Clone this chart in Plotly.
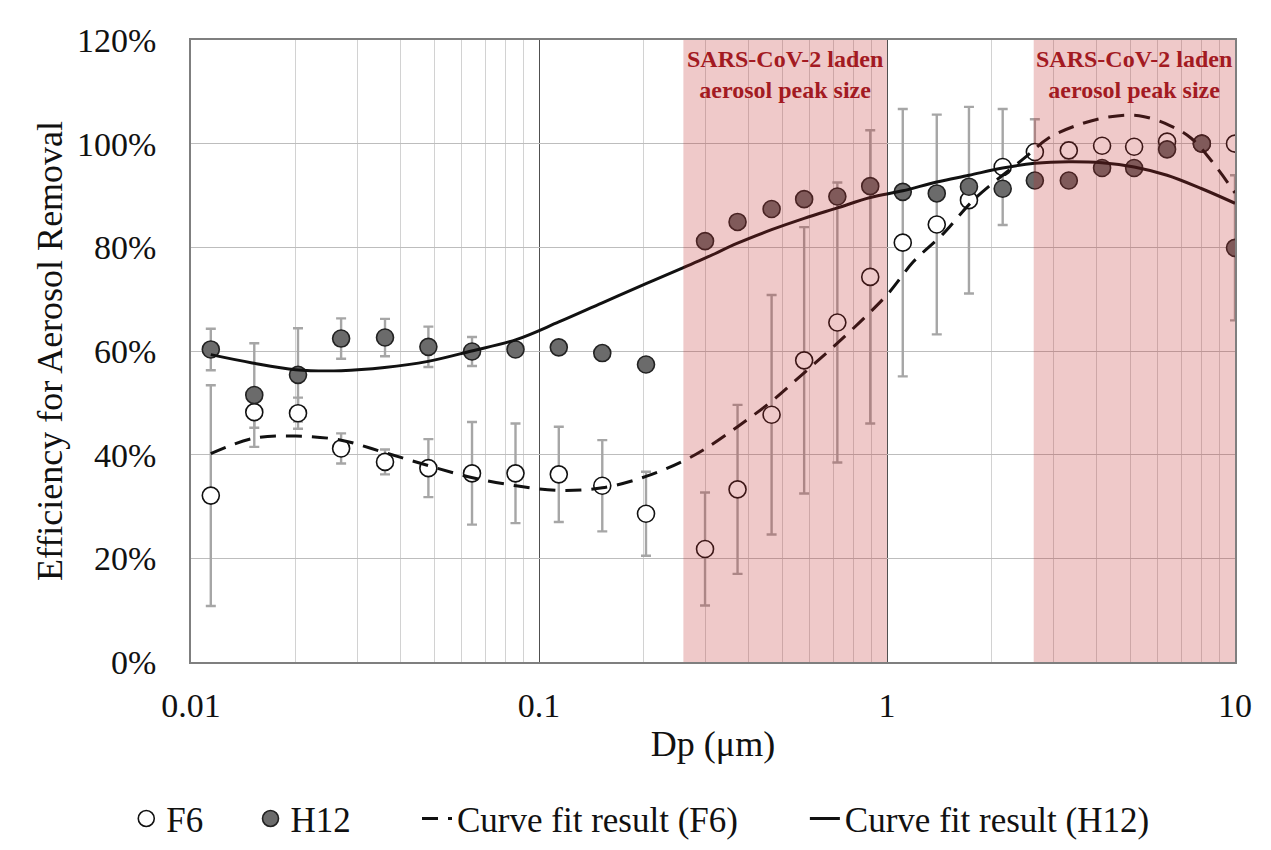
import math
import plotly.graph_objects as go

# ---------------- data ----------------
dp = [0.0114, 0.0152, 0.0203, 0.0270, 0.0361, 0.0481, 0.0642, 0.0856, 0.114, 0.152, 0.203,
      0.300, 0.372, 0.466, 0.578, 0.720, 0.895,
      1.11, 1.39, 1.72, 2.15, 2.66, 3.33, 4.15, 5.13, 6.38, 8.03, 10.0]

f6 = [32.1, 48.2, 48.0, 41.2, 38.6, 37.4, 36.4, 36.4, 36.2, 34.0, 28.6,
      21.8, 33.3, 47.7, 58.2, 65.5, 74.3,
      80.9, 84.4, 89.1, 95.5, 98.4, 98.7, 99.6, 99.4, 100.4, 100.0, 100.0]
f6_err = [21.3, 3.0, 3.0, 2.9, 2.4, 5.6, 9.9, 9.6, 9.2, 8.8, 8.1,
          10.9, 16.3, 23.1, 25.7, 27.0, 28.3,
          25.8, 21.2, 18.0, 11.2, 6.3, 1.5, 1.0, 1.0, 1.0, 1.0, 0.5]

h12 = [60.3, 51.5, 55.4, 62.4, 62.6, 60.8, 59.9, 60.3, 60.7, 59.6, 57.4,
       81.2, 84.9, 87.4, 89.3, 89.8, 91.8,
       90.7, 90.4, 91.7, 91.3, 92.9, 92.9, 95.3, 95.3, 98.9, 100.0, 79.9]
h12_err = [4.0, 10.0, 9.0, 3.9, 3.6, 3.9, 2.8, 1.0, 1.0, 1.0, 1.0,
           1.0, 1.0, 1.0, 1.0, 1.0, 1.0,
           1.0, 1.0, 1.0, 1.0, 1.0, 1.0, 1.0, 1.0, 1.0, 1.0, 14.0]

fit_f6_x = [0.0114, 0.015, 0.02, 0.027, 0.036, 0.048, 0.064, 0.086, 0.114, 0.152, 0.203,
            0.26, 0.30, 0.372, 0.466, 0.578, 0.72, 0.895, 1.02, 1.19, 1.44, 1.79,
            2.5, 2.9, 3.5, 4.3, 5.3, 6.5, 7.5, 8.6, 10.0]
fit_f6 = [40.2, 43.1, 43.6, 42.8, 40.4, 37.9, 35.6, 34.0, 33.1, 33.6, 35.8,
          38.8, 41.1, 45.4, 50.3, 55.8, 61.5, 67.5, 71.5, 77.2, 82.4, 89.4,
          97.4, 101.0, 103.5, 105.1, 105.4, 103.5, 101.0, 96.5, 90.5]

fit_h12_x = [0.0114, 0.015, 0.02, 0.027, 0.036, 0.048, 0.064, 0.086, 0.114, 0.152, 0.203,
             0.26, 0.30, 0.372, 0.466, 0.578, 0.72, 0.895, 1.11, 1.39, 1.72, 2.15,
             2.66, 3.33, 4.15, 5.13, 6.38, 8.03, 10.0]
fit_h12 = [59.3, 57.7, 56.4, 56.2, 56.8, 58.0, 60.0, 62.2, 65.6, 69.3, 73.0,
           76.1, 77.9, 80.8, 83.4, 85.6, 87.6, 89.6, 90.9, 92.6, 93.9, 95.3,
           96.2, 96.5, 96.3, 95.5, 93.9, 91.3, 88.5]

peak_ranges = [(0.26, 1.0), (2.64, 10.0)]
peak_label = "SARS-CoV-2 laden<br>aerosol peak size"

x_ticks = [0.01, 0.1, 1, 10]
x_tick_text = ["0.01", "0.1", "1", "10"]
y_ticks = [0, 20, 40, 60, 80, 100, 120]
y_tick_text = [f"{v}%" for v in y_ticks]

# ---------------- figure ----------------
SERIF = "Liberation Serif, Times New Roman, serif"
ERR_COLOR = "#a6a6a6"
INK = "#111111"

fig = go.Figure()

# error bars first (so markers sit on top)
for vals, errs in ((f6, f6_err), (h12, h12_err)):
    fig.add_trace(go.Scatter(
        x=dp, y=vals, mode="markers",
        marker=dict(size=1, color="rgba(0,0,0,0)"),
        error_y=dict(type="data", array=errs, visible=True,
                     color=ERR_COLOR, thickness=2.4, width=5),
        showlegend=False, hoverinfo="skip"))

fig.add_trace(go.Scatter(
    x=dp, y=f6, mode="markers", name="F6", legend="legend",
    marker=dict(size=17, color="white", line=dict(color=INK, width=1.6))))
fig.add_trace(go.Scatter(
    x=dp, y=h12, mode="markers", name="H12", legend="legend2",
    marker=dict(size=17, color="#6b6b6b", line=dict(color="#222222", width=1.6))))

fig.add_trace(go.Scatter(
    x=fit_f6_x, y=fit_f6, mode="lines", name="Curve fit result (F6)", legend="legend3",
    line=dict(color=INK, width=3, dash="16px,10px", shape="spline", smoothing=1.0)))
fig.add_trace(go.Scatter(
    x=fit_h12_x, y=fit_h12, mode="lines", name="Curve fit result (H12)", legend="legend4",
    line=dict(color=INK, width=3, shape="spline", smoothing=1.0)))

for (a, b) in peak_ranges:
    fig.add_shape(type="rect", xref="x", yref="paper", x0=a, x1=b, y0=0, y1=1,
                  fillcolor="rgba(190,40,40,0.25)", line=dict(width=0), layer="above")
    fig.add_annotation(x=(math.log10(a) + math.log10(b)) / 2, xref="x",
                       y=1, yref="paper", yanchor="top", yshift=-4,
                       text="<b>" + peak_label + "</b>", showarrow=False,
                       font=dict(family=SERIF, size=24, color="#a31a22"))

fig.update_xaxes(
    type="log", range=[-2, 1],
    tickvals=x_ticks, ticktext=x_tick_text,
    tickfont=dict(family=SERIF, size=34, color=INK),
    showgrid=True, gridcolor="#505050", gridwidth=1,
    minor=dict(showgrid=True, gridcolor="#d2d2d2", gridwidth=1, dtick="D1", ticks=""),
    showline=True, linecolor="#7f7f7f", linewidth=1.5, mirror=True,
    ticks="", ticklabelstandoff=12,
    title=dict(text="Dp (μm)", font=dict(family=SERIF, size=36, color=INK), standoff=8),
    zeroline=False)

fig.update_yaxes(
    range=[0, 120], tickvals=y_ticks, ticktext=y_tick_text,
    tickfont=dict(family=SERIF, size=34, color=INK),
    showgrid=True, gridcolor="#bdbdbd", gridwidth=1.3,
    showline=True, linecolor="#7f7f7f", linewidth=1.5, mirror=True,
    ticks="", ticklabelstandoff=26,
    title=dict(text="Efficiency for Aerosol Removal",
               font=dict(family=SERIF, size=36, color=INK), standoff=4),
    zeroline=False)

leg_common = dict(orientation="h", y=-0.252, yanchor="middle", xanchor="left",
                  font=dict(family=SERIF, size=35, color=INK),
                  bgcolor="rgba(0,0,0,0)", itemsizing="trace")

fig.update_layout(
    width=1255, height=834,
    margin=dict(l=183, r=28, t=32, b=180, autoexpand=False),
    paper_bgcolor="white", plot_bgcolor="white",
    font=dict(family=SERIF, color=INK),
    legend=dict(x=-0.062, **leg_common),
    legend2=dict(x=0.057, **leg_common),
    legend3=dict(x=0.2165, **leg_common),
    legend4=dict(x=0.588, **leg_common),
    showlegend=True)

fig.write_html("out.html")
